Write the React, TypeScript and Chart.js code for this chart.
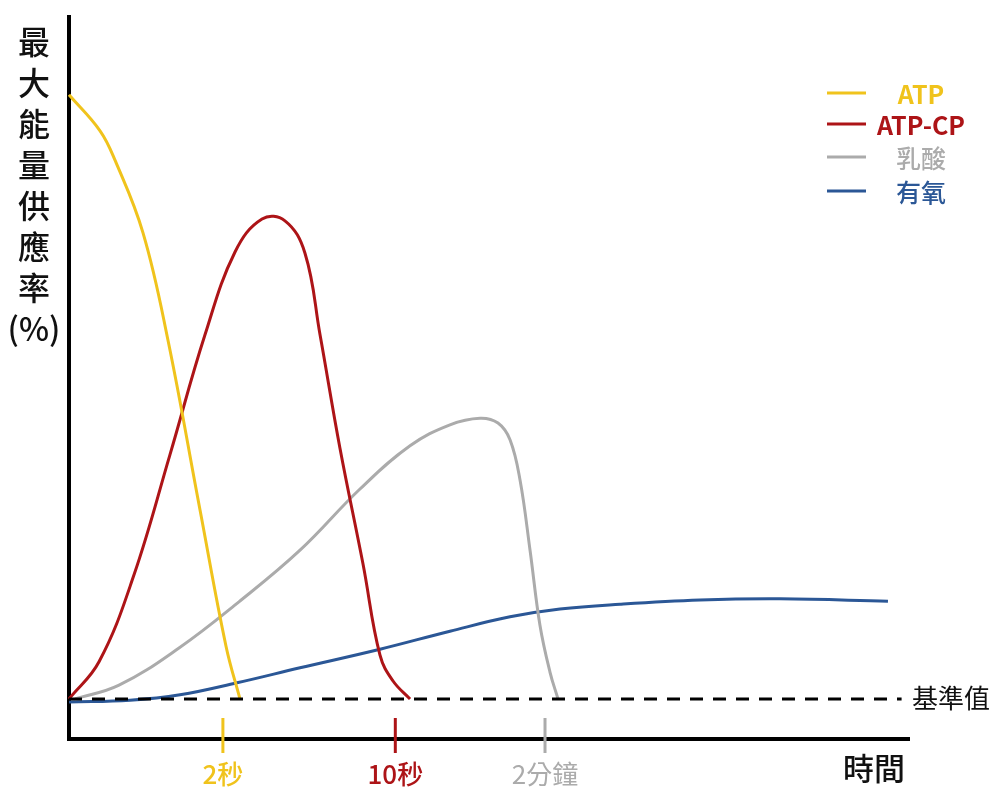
import { useEffect, useRef } from 'react';
import { Chart, registerables } from 'chart.js';

Chart.register(...registerables);

// time runs 0..100 along the axis, rate is % of max energy supply (baseline = 0)
const seriesNames = ['ATP', 'ATP-CP', '乳酸', '有氧'];
const seriesColors = ['#f0c31c', '#ad1417', '#ababab', '#2b5796'];

const atpTime = [0, 3.69, 5.47, 8.8, 11.77, 15.58, 18.67, 20.33];
const atpRate = [100.7, 94.7, 89.8, 77.7, 59.8, 31.5, 8.8, 0];

const atpCpTime = [0, 3.57, 7.73, 12.0, 16.17, 19.74, 22.95, 25.68, 28.06, 29.85, 32.22, 34.96, 36.98, 38.53, 40.55];
const atpCpRate = [0, 6.2, 20.7, 40.7, 60.7, 74.5, 80.0, 79.7, 74.3, 60.7, 41.8, 22.5, 7.3, 3.0, 0];

const lacticTime = [0.71, 5.95, 13.08, 20.21, 27.47, 34.6, 40.55, 45.3, 48.87, 51.01, 52.44, 53.63, 54.82, 56.0, 57.19, 58.15];
const lacticRate = [0, 2.3, 8.5, 16.2, 24.8, 35.0, 42.2, 45.7, 46.8, 46.0, 43.2, 36.5, 24.8, 12.3, 4.5, 0];

const aerobicTime = [0, 7.25, 13.2, 19.98, 27.47, 36.98, 45.3, 52.44, 58.38, 65.52, 75.03, 84.54, 97.38];
const aerobicRate = [-0.5, -0.2, 0.7, 2.7, 5.2, 8.3, 11.3, 13.7, 15.0, 15.8, 16.5, 16.7, 16.3];

const baselineTime = [0, 99];
const baselineRate = [0, 0];

const tickTimes = [18.3, 38.8, 56.6];
const tickLabels = ['2秒', '10秒', '2分鐘'];
const tickColors = ['#f0c31c', '#ad1417', '#ababab'];

const yTitle = ['最', '大', '能', '量', '供', '應', '率', '(%)'];
const xTitle = '時間';
const baselineLabel = '基準值';

const FONT = '"Noto Sans CJK TC", "Noto Sans", sans-serif';

const toPoints = (xs: number[], ys: number[]) => xs.map((x, i) => ({ x, y: ys[i] }));

const decorPlugin = {
  id: 'decor',
  beforeDatasetsDraw(chart: any) {
    const { ctx, scales } = chart;
    const x = scales.x;
    const y = scales.y;
    const left = x.getPixelForValue(0);
    const right = x.getPixelForValue(100);
    const top = y.getPixelForValue(y.max);
    const bottom = y.getPixelForValue(y.min);
    ctx.save();
    ctx.strokeStyle = '#000';
    ctx.lineWidth = 4;
    ctx.beginPath();
    ctx.moveTo(left, top);
    ctx.lineTo(left, bottom + 2);
    ctx.lineTo(right, bottom + 2);
    ctx.stroke();

    // time ticks
    ctx.lineWidth = 3;
    tickTimes.forEach((t, i) => {
      const px = x.getPixelForValue(t);
      ctx.strokeStyle = tickColors[i];
      ctx.beginPath();
      ctx.moveTo(px, bottom - 19);
      ctx.lineTo(px, bottom + 16);
      ctx.stroke();
    });
    ctx.restore();
  },
  afterDraw(chart: any) {
    const { ctx, scales } = chart;
    const x = scales.x;
    const y = scales.y;
    const bottom = y.getPixelForValue(y.min);
    const base = y.getPixelForValue(0);
    ctx.save();
    ctx.textBaseline = 'middle';

    // tick labels
    ctx.textAlign = 'center';
    tickLabels.forEach((label, i) => {
      ctx.fillStyle = tickColors[i];
      ctx.font = `${i === 2 ? 400 : 500} 26px ${FONT}`;
      ctx.fillText(label, x.getPixelForValue(tickTimes[i]), bottom + 37);
    });

    // axis titles
    ctx.fillStyle = '#111';
    ctx.font = `500 31px ${FONT}`;
    ctx.fillText(xTitle, 874, bottom + 31);
    ctx.font = `500 32px ${FONT}`;
    yTitle.forEach((ch, i) => {
      ctx.fillText(ch, 34, 42 + i * 41);
    });

    ctx.textAlign = 'left';
    ctx.font = `400 26px ${FONT}`;
    ctx.fillText(baselineLabel, 912, base - 1);

    // legend
    seriesNames.forEach((name, i) => {
      const ly = [93, 124, 157, 191][i];
      ctx.strokeStyle = seriesColors[i];
      ctx.lineWidth = 3;
      ctx.beginPath();
      ctx.moveTo(827, ly);
      ctx.lineTo(866, ly);
      ctx.stroke();
      ctx.fillStyle = seriesColors[i];
      ctx.textAlign = 'center';
      ctx.font = `${i < 2 ? 700 : 500} 25px ${FONT}`;
      ctx.fillText(name, 921, ly + 1);
    });
    ctx.restore();
  },
};

export default function App() {
  const canvasRef = useRef<HTMLCanvasElement>(null);
  const chartRef = useRef<Chart | null>(null);

  useEffect(() => {
    if (!canvasRef.current) return;
    const ctx = canvasRef.current.getContext('2d');
    if (!ctx) return;

    const curve = (label: string, xs: number[], ys: number[], color: string) => ({
      label,
      data: toPoints(xs, ys),
      borderColor: color,
      borderWidth: 3,
      pointRadius: 0,
      fill: false,
      tension: 0.4,
      clip: false as const,
    });

    chartRef.current = new Chart(ctx, {
      type: 'line',
      data: {
        datasets: [
          {
            label: baselineLabel,
            data: toPoints(baselineTime, baselineRate),
            borderColor: '#000',
            borderWidth: 3,
            borderDash: [13, 10],
            pointRadius: 0,
            fill: false,
            clip: false as const,
          },
          curve(seriesNames[0], atpTime, atpRate, seriesColors[0]),
          curve(seriesNames[1], atpCpTime, atpCpRate, seriesColors[1]),
          curve(seriesNames[2], lacticTime, lacticRate, seriesColors[2]),
          curve(seriesNames[3], aerobicTime, aerobicRate, seriesColors[3]),
        ],
      },
      options: {
        responsive: false,
        animation: false,
        layout: { padding: { left: 69, right: 90, top: 15, bottom: 66 } },
        plugins: {
          legend: { display: false },
          tooltip: { enabled: false },
        },
        scales: {
          x: { type: 'linear', min: 0, max: 100, display: false },
          y: { type: 'linear', min: -6.33, max: 114, display: false },
        },
      },
      plugins: [decorPlugin],
    });

    return () => {
      if (chartRef.current) {
        chartRef.current.destroy();
        chartRef.current = null;
      }
    };
  }, []);

  return (
    <div style={{ position: 'fixed', left: 0, top: 0, width: 1000, height: 803, background: '#fff' }}>
      <canvas ref={canvasRef} width={1000} height={803} />
    </div>
  );
}
